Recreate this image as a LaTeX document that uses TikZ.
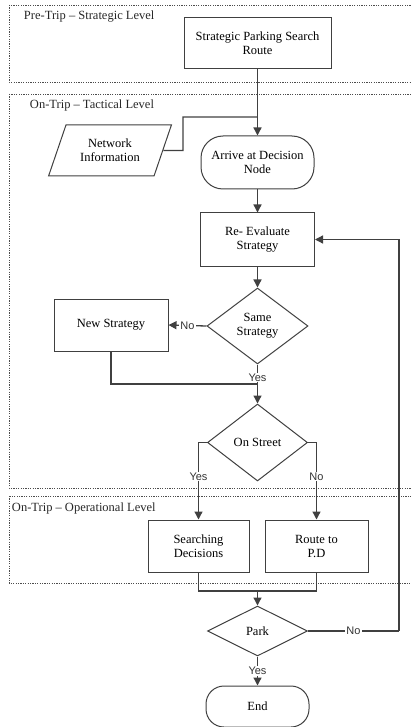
\documentclass[tikz,border=0pt]{standalone}
\usepackage{fontspec}
\setmainfont{Liberation Serif}
\newfontfamily\yesnofont{Liberation Sans}
\usetikzlibrary{arrows.meta, shapes.geometric}

\begin{document}
\begin{tikzpicture}[x=1pt, y=-1pt,
        line width=1.3pt,
        box/.style={rectangle, draw=black!75, fill=white, line width=1pt,
                    align=center, font=\fontsize{12.5}{14}\selectfont, inner sep=1pt},
        term/.style={box, rounded corners=22pt},
        dec/.style={diamond, draw=black!75, fill=white, line width=1pt, aspect=1.4,
                    align=center, font=\fontsize{12.5}{14}\selectfont, inner sep=0pt},
        data/.style={trapezium, trapezium left angle=66, trapezium right angle=114,
                     trapezium stretches=true, draw=black!75, fill=white, line width=1pt,
                     align=center, font=\fontsize{12.5}{14}\selectfont},
        frame/.style={draw=black!70, line width=0.8pt, dash pattern=on 1.2pt off 1.2pt},
        lvl/.style={anchor=west, font=\fontsize{12.5}{13}\selectfont, text=black!85},
        yn/.style={fill=white, inner sep=1pt, font=\yesnofont\fontsize{11}{12}\selectfont, text=black!80},
        arr/.style={draw=black!75, -{Triangle[length=8pt, width=8pt]}},
        ln/.style={draw=black!75}]
      \useasboundingbox (0,0) rectangle (410,727);
      % level frames
      \draw[frame] (9,5) rectangle (416,82);
      \draw[frame] (9,94) rectangle (416,488);
      \draw[frame] (9,496) rectangle (416,583);
      \node[lvl] (lpre) at (20,17) {Pre-Trip -- Strategic Level};
      \node[lvl] (ltac) at (26,105) {On-Trip -- Tactical Level};
      \node[lvl] (lop) at (8,508) {On-Trip -- Operational Level};
      % nodes
      \node[box, minimum width=147pt, minimum height=51pt] (strat) at (257.5,43.5) {Strategic Parking Search\\Route};
      \node[data, minimum width=124pt, minimum height=51pt] (netinfo) at (110,150.5) {Network\\Information};
      \node[term, minimum width=113pt, minimum height=53pt] (arrive) at (257.5,162.5) {Arrive at Decision\\Node};
      \node[box, minimum width=114pt, minimum height=53pt] (reeval) at (257.5,239.5) {Re- Evaluate\\Strategy};
      \node[dec, minimum width=101pt, minimum height=76pt] (same) at (257.5,326) {Same\\Strategy};
      \node[box, minimum width=114pt, minimum height=52pt] (newstr) at (111,325) {New Strategy};
      \node[dec, minimum width=100pt, minimum height=77pt] (street) at (257.5,442.5) {On Street};
      \node[box, minimum width=101pt, minimum height=52pt] (search) at (198.5,546) {Searching\\Decisions};
      \node[box, minimum width=103pt, minimum height=52pt] (route) at (316.5,546) {Route to\\P.D};
      \node[dec, minimum width=100pt, minimum height=50pt] (park) at (257.5,631) {Park};
      \node[term, minimum width=103pt, minimum height=41pt, rounded corners=18pt] (endn) at (257.5,706.5) {End};
      % connectors
      \coordinate (njoin) at (257.5,117);
      \coordinate (ncorner) at (183,150.5);
      \coordinate (nsjoin) at (257.5,384);
      \coordinate (mrg) at (257.5,591);
      \coordinate (fb) at (399,631);
      \draw[arr] (strat) -- (arrive);
      \draw[ln] (netinfo.east) -- (ncorner) |- (njoin);
      \draw[arr] (arrive) -- (reeval);
      \draw[arr] (reeval) -- (same);
      \draw[arr] (same.west) -- node[yn] {No} (newstr.east);
      \draw[ln] (newstr.south) |- (nsjoin);
      \draw[arr] (same.south) -- node[yn, pos=0.33] {Yes} (street.north);
      \draw[arr] (street.west) -| node[yn, pos=0.72] {Yes} (search.north);
      \draw[arr] (street.east) -| node[yn, pos=0.72] {No} (route.north);
      \draw[ln] (search.south) |- (mrg);
      \draw[ln] (route.south) |- (mrg);
      \draw[arr] (mrg) -- (park.north);
      \draw[ln] (park.east) -- node[yn] {No} (fb);
      \draw[arr] (fb) |- (reeval.east);
      \draw[arr] (park.south) -- node[yn] {Yes} (endn.north);
    \end{tikzpicture}
\end{document}
